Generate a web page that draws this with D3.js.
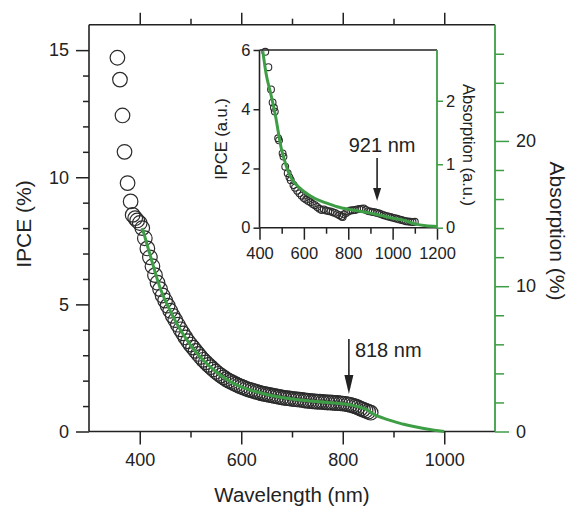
<!DOCTYPE html>
<html>
<head>
<meta charset="utf-8">
<script src="https://cdn.jsdelivr.net/npm/d3@7"></script>
<style>
  html, body { margin: 0; padding: 0; background: #fff; }
  svg { display: block; font-family: "Liberation Sans", Arial, sans-serif; }
</style>
</head>
<body>
<svg id="chart" width="569" height="508"></svg>
<script>
// ---- Main panel: IPCE (%) vs wavelength ----
const ipceWavelength = [356, 361, 366, 370, 376, 382, 386, 391, 395,
  400, 405, 410, 415, 420, 425, 430, 435, 440, 445, 450, 455, 460, 465, 470, 475,
  480, 485, 490, 495, 500, 505, 510, 515, 520, 525, 530, 535, 540, 545, 550, 555,
  560, 565, 570, 575, 580, 585, 590, 595, 600, 605, 610, 615, 620, 625, 630, 635,
  640, 645, 650, 655, 660, 665, 670, 675, 680, 685, 690, 695, 700, 705, 710, 715,
  720, 725, 730, 735, 740, 745, 750, 755, 760, 765, 770, 775, 780, 785, 790, 795,
  800, 805, 810, 815, 820, 825, 830, 835, 840, 845, 850, 855];
const ipceValue = [14.7, 13.84, 12.43, 11.0, 9.77, 9.05, 8.52, 8.39, 8.3,
  8.2, 8.0, 7.6, 7.2, 6.85, 6.5, 6.15, 5.85, 5.6, 5.35, 5.15, 4.95, 4.75, 4.55, 4.38, 4.2,
  4.02, 3.86, 3.7, 3.55, 3.42, 3.3, 3.17, 3.05, 2.93, 2.82, 2.72, 2.62, 2.53, 2.44, 2.35, 2.27,
  2.2, 2.13, 2.06, 2.0, 1.95, 1.9, 1.85, 1.8, 1.76, 1.72, 1.68, 1.65, 1.62, 1.59, 1.56, 1.53,
  1.5, 1.48, 1.46, 1.44, 1.42, 1.40, 1.38, 1.36, 1.34, 1.32, 1.31, 1.30, 1.28, 1.27, 1.26, 1.25,
  1.24, 1.22, 1.21, 1.2, 1.19, 1.18, 1.17, 1.17, 1.16, 1.15, 1.14, 1.14, 1.13, 1.12, 1.12, 1.11,
  1.10, 1.09, 1.07, 1.05, 1.02, 0.99, 0.95, 0.9, 0.86, 0.82, 0.78, 0.74];

const absWavelength = [405, 420, 440, 460, 480, 500, 520, 540, 560, 580, 600, 620, 650,
  680, 700, 740, 780, 820, 850, 860, 880, 900, 920, 940, 960, 980, 1000];
const absPercent = [14.0, 12.2, 9.9, 8.3, 7.0, 5.95, 5.1, 4.42, 3.85, 3.4, 3.07, 2.83, 2.55,
  2.34, 2.23, 2.08, 1.97, 1.8, 1.45, 1.2, 0.92, 0.7, 0.5, 0.34, 0.2, 0.08, 0.0];

// ---- Inset: normalised IPCE and absorption ----
const insetIpceWavelength = [426, 440, 452, 459, 465, 469, 484, 488, 504, 508, 516, 527, 535,
  541, 553, 560, 570, 580, 590, 600, 610, 620, 630, 640, 650, 660, 670, 680, 690, 700, 710,
  720, 730, 740, 750, 760, 770, 775, 780, 790, 800, 810, 820, 830, 840, 850, 860, 870, 880,
  890, 900, 910, 920, 930, 940, 950, 960, 970, 980, 990, 1000, 1010, 1020, 1030, 1040, 1050,
  1060, 1070, 1080, 1090, 1100];
const insetIpceValue = [5.94, 5.42, 4.67, 4.23, 4.05, 3.92, 3.02, 2.95, 2.51, 2.4, 2.06, 1.84, 1.7,
  1.6, 1.44, 1.35, 1.25, 1.16, 1.08, 1.0, 0.95, 0.9, 0.86, 0.8, 0.76, 0.7, 0.64, 0.6, 0.62, 0.58, 0.56,
  0.55, 0.52, 0.5, 0.46, 0.42, 0.38, 0.36, 0.45, 0.5, 0.55, 0.58, 0.59, 0.6, 0.62, 0.63, 0.64, 0.65, 0.6,
  0.56, 0.55, 0.53, 0.52, 0.5, 0.48, 0.45, 0.42, 0.4, 0.38, 0.36, 0.34, 0.32, 0.3, 0.28, 0.26, 0.24,
  0.22, 0.21, 0.2, 0.19, 0.2];

const insetAbsWavelength = [415, 430, 450, 470, 500, 520, 540, 560, 580, 600, 650, 700, 750,
  800, 850, 900, 950, 1000, 1050, 1100, 1150, 1200];
const insetAbsValue = [2.78, 2.42, 2.12, 1.8, 1.22, 0.98, 0.8, 0.7, 0.63, 0.57, 0.46, 0.39, 0.33,
  0.29, 0.26, 0.23, 0.19, 0.15, 0.12, 0.06, 0.03, 0.02];

// Tick values
const mainXMajor = [400, 600, 800, 1000];
const mainXMinor = [500, 700, 900];
const mainYMajor = [0, 5, 10, 15];
const mainYMinor = [1, 2, 3, 4, 6, 7, 8, 9, 11, 12, 13, 14];
const mainRMajor = [0, 10, 20];
const mainRMinor = [2, 4, 6, 8, 12, 14, 16, 18, 22, 24, 26];
const insetXMajor = [400, 600, 800, 1000, 1200];
const insetXMinor = [500, 700, 900, 1100];
const insetYTicks = [0, 2, 4, 6];
const insetRTicks = [0, 1, 2];

// Annotations
const mainMarker = { wavelength: 818, label: "818 nm" };
const insetMarker = { wavelength: 921, label: "921 nm" };

const INK = "#222";
const GREEN = "#3e9e45";

const svg = d3.select("#chart");

// Scales
const x = d3.scaleLinear().domain([300, 1100]).range([89, 495]);
const yL = d3.scaleLinear().domain([0, 16]).range([431.5, 24.7]);
const yR = d3.scaleLinear().domain([0, 28]).range([431.5, 24.7]);

const xi = d3.scaleLinear().domain([400, 1200]).range([259.5, 437]);
const yi = d3.scaleLinear().domain([0, 6]).range([227.7, 50]);
const yiR = d3.scaleLinear().domain([0, 2.8]).range([227.7, 50]);

function styleAxis(g, color, fontSize) {
  g.selectAll(".domain").remove();
  g.selectAll(".tick line").attr("stroke", color).attr("stroke-width", 1.5);
  g.selectAll(".tick text").attr("fill", INK).attr("font-size", fontSize)
    .attr("font-family", "Liberation Sans, Arial, sans-serif");
}

// ---- Main axes ----
const [x0, x1] = x.range();
const [yb, yt] = yL.range();

// bottom
svg.append("g").attr("transform", `translate(0,${yb})`)
  .call(d3.axisBottom(x).tickValues(mainXMajor).tickSize(13).tickPadding(9).tickFormat(d3.format("d")))
  .call(g => styleAxis(g, INK, 18));
svg.append("g").attr("transform", `translate(0,${yb})`)
  .call(d3.axisBottom(x).tickValues(mainXMinor).tickSize(6).tickFormat(""))
  .call(g => styleAxis(g, INK, 18));
// top
svg.append("g").attr("transform", `translate(0,${yt})`)
  .call(d3.axisTop(x).tickValues(mainXMajor).tickSize(12).tickFormat(""))
  .call(g => styleAxis(g, INK, 18));
svg.append("g").attr("transform", `translate(0,${yt})`)
  .call(d3.axisTop(x).tickValues(mainXMinor).tickSize(6).tickFormat(""))
  .call(g => styleAxis(g, INK, 18));
// left
svg.append("g").attr("transform", `translate(${x0},0)`)
  .call(d3.axisLeft(yL).tickValues(mainYMajor).tickSize(13).tickPadding(7).tickFormat(d3.format("d")))
  .call(g => styleAxis(g, INK, 18));
svg.append("g").attr("transform", `translate(${x0},0)`)
  .call(d3.axisLeft(yL).tickValues(mainYMinor).tickSize(6).tickFormat(""))
  .call(g => styleAxis(g, INK, 18));
// right (absorption, green)
svg.append("g").attr("transform", `translate(${x1},0)`)
  .call(d3.axisRight(yR).tickValues(mainRMajor).tickSize(14).tickPadding(7).tickFormat(d3.format("d")))
  .call(g => styleAxis(g, GREEN, 18));
svg.append("g").attr("transform", `translate(${x1},0)`)
  .call(d3.axisRight(yR).tickValues(mainRMinor).tickSize(9).tickFormat(""))
  .call(g => styleAxis(g, GREEN, 18));

// frame lines
svg.append("line").attr("x1", x0).attr("x2", x1).attr("y1", yb).attr("y2", yb)
  .attr("stroke", INK).attr("stroke-width", 1.6);
svg.append("line").attr("x1", x0).attr("x2", x1).attr("y1", yt).attr("y2", yt)
  .attr("stroke", INK).attr("stroke-width", 1.6);
svg.append("line").attr("x1", x0).attr("x2", x0).attr("y1", yt).attr("y2", yb)
  .attr("stroke", INK).attr("stroke-width", 1.6);
svg.append("line").attr("x1", x1).attr("x2", x1).attr("y1", yt).attr("y2", yb)
  .attr("stroke", GREEN).attr("stroke-width", 1.8);

// ---- Main data ----
const mainPts = ipceWavelength.map((w, i) => ({ w, v: ipceValue[i] }));
svg.append("g").selectAll("circle").data(mainPts).join("circle")
  .attr("cx", d => x(d.w)).attr("cy", d => yL(d.v)).attr("r", 7.3)
  .attr("fill", "none").attr("stroke", "#2b2b2b").attr("stroke-width", 1.2);

const absPts = absWavelength.map((w, i) => ({ w, v: absPercent[i] }));
svg.append("path").datum(absPts)
  .attr("d", d3.line().x(d => x(d.w)).y(d => yR(d.v)).curve(d3.curveMonotoneX))
  .attr("fill", "none").attr("stroke", GREEN).attr("stroke-width", 3);

// ---- Main titles ----
svg.append("text").attr("x", 292).attr("y", 502).attr("text-anchor", "middle")
  .attr("font-size", 20.5).attr("fill", INK).text("Wavelength (nm)");
svg.append("text").attr("transform", "translate(23,224) rotate(-90)")
  .attr("text-anchor", "middle").attr("dy", "0.36em")
  .attr("font-size", 21).attr("fill", INK).text("IPCE (%)");
svg.append("text").attr("transform", "translate(558,231) rotate(90)")
  .attr("text-anchor", "middle").attr("dy", "0.36em")
  .attr("font-size", 21).attr("fill", INK).text("Absorption (%)");

// arrow marker helper
function arrow(xp, yTop, yTip, headLen, headW) {
  svg.append("line").attr("x1", xp).attr("x2", xp).attr("y1", yTop).attr("y2", yTip - headLen + 1)
    .attr("stroke", INK).attr("stroke-width", 1.6);
  svg.append("path")
    .attr("d", `M${xp - headW / 2},${yTip - headLen} L${xp + headW / 2},${yTip - headLen} L${xp},${yTip} Z`)
    .attr("fill", INK);
}

arrow(x(mainMarker.wavelength) - 3, 339, 394, 19, 9);
svg.append("text").attr("x", x(mainMarker.wavelength) + 3).attr("y", 357)
  .attr("font-size", 20).attr("fill", INK).text(mainMarker.label);

// ---- Inset ----
const [ix0, ix1] = xi.range();
const [iyb, iyt] = yi.range();

svg.append("g").attr("transform", `translate(0,${iyb})`)
  .call(d3.axisBottom(xi).tickValues(insetXMajor).tickSize(12).tickPadding(8).tickFormat(d3.format("d")))
  .call(g => styleAxis(g, INK, 16.5));
svg.append("g").attr("transform", `translate(0,${iyb})`)
  .call(d3.axisBottom(xi).tickValues(insetXMinor).tickSize(6).tickFormat(""))
  .call(g => styleAxis(g, INK, 16.5));
svg.append("g").attr("transform", `translate(${ix0},0)`)
  .call(d3.axisLeft(yi).tickValues(insetYTicks).tickSize(6).tickPadding(3).tickFormat(d3.format("d")))
  .call(g => styleAxis(g, INK, 16.5));
svg.append("g").attr("transform", `translate(${ix1},0)`)
  .call(d3.axisRight(yiR).tickValues(insetRTicks).tickSize(6).tickPadding(3).tickFormat(d3.format("d")))
  .call(g => styleAxis(g, GREEN, 16.5));

svg.append("line").attr("x1", ix0).attr("x2", ix1).attr("y1", iyb).attr("y2", iyb)
  .attr("stroke", INK).attr("stroke-width", 1.6);
svg.append("line").attr("x1", ix0).attr("x2", ix1).attr("y1", iyt).attr("y2", iyt)
  .attr("stroke", INK).attr("stroke-width", 1.6);
svg.append("line").attr("x1", ix0).attr("x2", ix0).attr("y1", iyt).attr("y2", iyb)
  .attr("stroke", INK).attr("stroke-width", 1.6);
svg.append("line").attr("x1", ix1).attr("x2", ix1).attr("y1", iyt).attr("y2", iyb)
  .attr("stroke", GREEN).attr("stroke-width", 1.8);

const insetPts = insetIpceWavelength.map((w, i) => ({ w, v: insetIpceValue[i] }));
svg.append("g").selectAll("circle").data(insetPts).join("circle")
  .attr("cx", d => xi(d.w)).attr("cy", d => yi(d.v)).attr("r", 3.4)
  .attr("fill", "none").attr("stroke", "#2b2b2b").attr("stroke-width", 1.1);

const insetAbsPts = insetAbsWavelength.map((w, i) => ({ w, v: insetAbsValue[i] }));
svg.append("path").datum(insetAbsPts)
  .attr("d", d3.line().x(d => xi(d.w)).y(d => yiR(d.v)).curve(d3.curveMonotoneX))
  .attr("fill", "none").attr("stroke", GREEN).attr("stroke-width", 3);

svg.append("text").attr("transform", "translate(221,139) rotate(-90)")
  .attr("text-anchor", "middle").attr("dy", "0.36em")
  .attr("font-size", 16.5).attr("fill", INK).text("IPCE (a.u.)");
svg.append("text").attr("transform", "translate(469,145) rotate(90)")
  .attr("text-anchor", "middle").attr("dy", "0.36em")
  .attr("font-size", 16.5).attr("fill", INK).text("Absorption (a.u.)");

arrow(xi(insetMarker.wavelength) + 2, 158, 201, 13, 8);
svg.append("text").attr("x", xi(insetMarker.wavelength) + 7).attr("y", 152)
  .attr("text-anchor", "middle").attr("font-size", 20).attr("fill", INK).text(insetMarker.label);
</script>
</body>
</html>
